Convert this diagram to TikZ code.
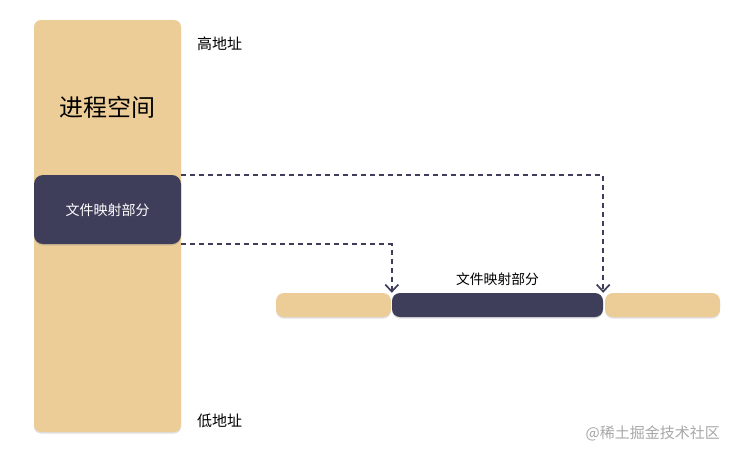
\documentclass[tikz,border=0pt]{standalone}
\usepackage{fontspec}
\setmainfont{Noto Sans CJK SC}
\usetikzlibrary{arrows.meta,shadows}
\definecolor{tan}{HTML}{EDCD97}
\definecolor{navy}{HTML}{3E3E5B}
\definecolor{wm}{HTML}{A8A8A8}
\tikzset{
  bar/.style={rectangle, fill=tan, draw=none, inner sep=0pt,
    drop shadow={opacity=0.25, shadow xshift=0pt, shadow yshift=-1.5pt}},
  darkbar/.style={rectangle, fill=navy, draw=none, inner sep=0pt,
    drop shadow={opacity=0.25, shadow xshift=0pt, shadow yshift=-1.5pt}},
  link/.style={draw=navy, line width=1.6pt, dash pattern=on 5pt off 4pt,
    -{Straight Barb[length=7pt,width=13pt,line width=1.7pt]}},
  lbl/.style={inner sep=0pt, font=\fontsize{15}{17}\selectfont}
}
\begin{document}
\begin{tikzpicture}[x=1pt,y=-1pt]
\useasboundingbox[fill=white] (0,0) rectangle (739,456);
% process space
\node[bar, rounded corners=7pt, minimum width=147pt, minimum height=412pt] (proc) at (107.5,226) {};
\node[inner sep=0pt, font=\fontsize{24}{28}\selectfont] (proct) at (107.5,107) {进程空间};
\node[darkbar, rounded corners=9pt, minimum width=147pt, minimum height=69pt] (fmap) at (107.5,209.5) {};
\node[inner sep=0pt, text=white, font=\fontsize{14}{16}\selectfont] (fmapt) at (107.5,210) {文件映射部分};
\node[lbl, anchor=west] (hi) at (197,44) {高地址};
\node[lbl, anchor=west] (lo) at (197,421) {低地址};
% file strip
\node[bar, rounded corners=8pt, minimum width=115pt, minimum height=24pt] (fl) at (333.5,305) {};
\node[bar, rounded corners=8pt, minimum width=115pt, minimum height=24pt] (fr) at (662.5,305) {};
\node[darkbar, rounded corners=8pt, minimum width=211pt, minimum height=24pt] (fm) at (497.5,305) {};
\node[inner sep=0pt, font=\fontsize{13.8}{16}\selectfont] (fmlbl) at (497.5,279) {文件映射部分};
% links
\draw[link] (fmap.north east) -| (fm.north east);
\draw[link] (fmap.south east) -| (fm.north west);
% watermark
\node[inner sep=0pt, anchor=east, text=wm, font=\fontsize{15}{17}\selectfont] (wmk) at (720,433) {@稀土掘金技术社区};
\end{tikzpicture}
\end{document}
